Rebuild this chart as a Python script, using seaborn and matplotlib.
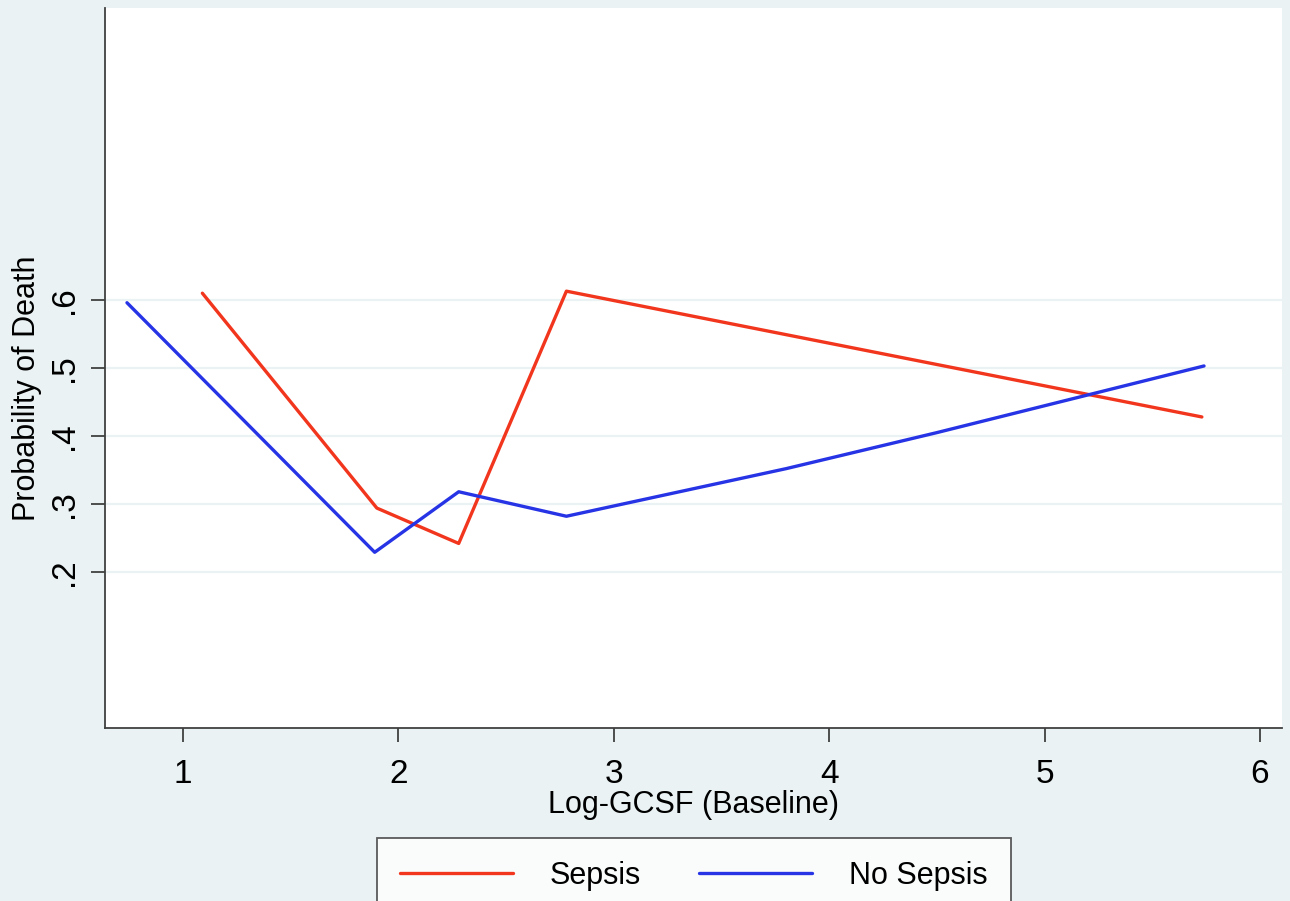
import numpy as np
import pandas as pd
import matplotlib
matplotlib.use("Agg")
import matplotlib.pyplot as plt
import seaborn as sns

# values
sepsis_x = [1.09, 1.90, 2.28, 2.78, 5.73]
sepsis_y = [0.610, 0.294, 0.242, 0.613, 0.428]
nosepsis_x = [0.74, 1.89, 2.28, 2.78, 3.80, 4.50, 5.74]
nosepsis_y = [0.596, 0.229, 0.318, 0.282, 0.352, 0.405, 0.503]
groups = ["Sepsis", "No Sepsis"]
y_ticks = [0.2, 0.3, 0.4, 0.5, 0.6]
y_ticklabels = [".2", ".3", ".4", ".5", ".6"]
x_ticks = [1, 2, 3, 4, 5, 6]

df = pd.concat([
    pd.DataFrame({"x": sepsis_x, "y": sepsis_y, "group": groups[0]}),
    pd.DataFrame({"x": nosepsis_x, "y": nosepsis_y, "group": groups[1]}),
])

sns.set_style("white")
plt.rcParams['font.family'] = ['Liberation Sans', 'DejaVu Sans']
plt.rcParams['text.color'] = 'black'
plt.rcParams['axes.labelcolor'] = 'black'
plt.rcParams['xtick.color'] = 'black'
plt.rcParams['ytick.color'] = 'black'

bg = "#EAF2F3"
fig = plt.figure(figsize=(12.9, 9.01), dpi=100, facecolor=bg)
ax = fig.add_axes([105/1290, 1-728/901, (1282-105)/1290, (728-8)/901])
ax.set_facecolor("white")

sns.lineplot(data=df, x="x", y="y", hue="group", hue_order=groups,
             palette=["#F2361E", "#2634E6"], estimator=None, sort=False,
             linewidth=2.4, ax=ax)

ax.set_xlim(0.638, 6.102)
ax.set_ylim(-0.0294, 1.0294)
ax.set_xticks(x_ticks)
ax.set_xticklabels([str(t) for t in x_ticks], fontsize=24)
ax.set_yticks(y_ticks)
ax.set_yticklabels(y_ticklabels, fontsize=24, rotation=90, va="center")
for t in y_ticks:
    ax.axhline(t, color="#EAF2F3", lw=1.6, zorder=0)

for s in ["top", "right"]:
    ax.spines[s].set_visible(False)
for s in ["left", "bottom"]:
    ax.spines[s].set_color("#404040")
    ax.spines[s].set_linewidth(1.3)
ax.tick_params(axis="x", direction="out", length=10, width=1.3,
               color="#404040", pad=12, bottom=True)
ax.tick_params(axis="y", direction="out", length=10, width=1.3,
               color="#404040", pad=8, left=True)

ax.set_xlabel("Log-GCSF (Baseline)", fontsize=22, labelpad=0)
ax.set_ylabel("Probability of Death", fontsize=22)
ax.yaxis.set_label_coords(-0.0535, 0.472)

handles, labels = ax.get_legend_handles_labels()
ax.get_legend().remove()
leg = fig.legend(handles, labels, loc="upper center",
                 bbox_to_anchor=(694/1290, 1-838/901), ncol=2,
                 fontsize=22, frameon=True, fancybox=False,
                 handlelength=3.7, handletextpad=1.2, columnspacing=1.9,
                 borderpad=0.75, borderaxespad=0, edgecolor="#333333")
leg.get_frame().set_linewidth(1.3)
leg.get_frame().set_facecolor("white")

fig.savefig("out.png", dpi=100, facecolor=bg)
